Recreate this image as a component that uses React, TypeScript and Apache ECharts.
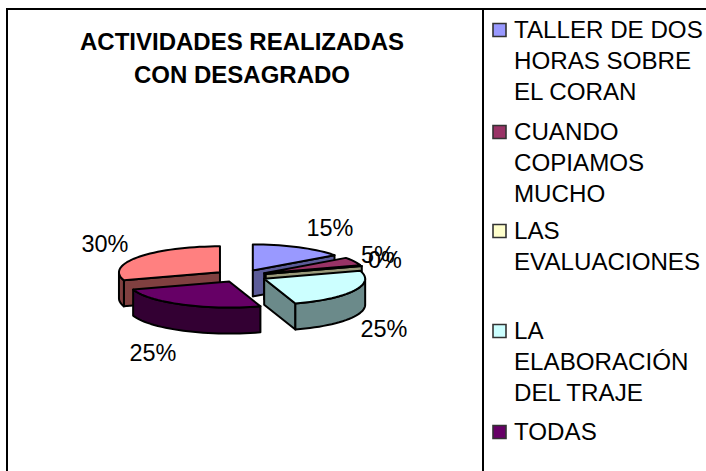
import React, { useEffect, useRef } from "react";
import * as echarts from "echarts";

const titleText = "ACTIVIDADES REALIZADAS\nCON DESAGRADO";
const categories = [
  "TALLER DE DOS HORAS SOBRE EL CORAN",
  "CUANDO COPIAMOS MUCHO",
  "LAS EVALUACIONES",
  "LA ELABORACIÓN DEL TRAJE",
  "TODAS",
  "",
];
const values = [15, 5, 0, 25, 25, 30];
const topColors = ["#9999FF", "#993366", "#FFFFCC", "#CCFFFF", "#660066", "#FF8080"];
const sideColors = ["#5C5C99", "#5C1F3D", "#99997A", "#6B8A8A", "#330033", "#804040"];
const legendLines = [
  ["TALLER DE DOS", "HORAS SOBRE", "EL CORAN"],
  ["CUANDO", "COPIAMOS", "MUCHO"],
  ["LAS", "EVALUACIONES"],
  ["LA", "ELABORACIÓN", "DEL TRAJE"],
  ["TODAS"],
];
const legendRowY = [30, 132, 231, 331, 432];
const labelAnchors = [
  [330, 228],
  [378, 255],
  [385, 260],
  [384, 329],
  [153, 353],
  [105, 244],
];

const FONT = "'Liberation Sans', Arial, sans-serif";
const CX = 241, CY = 276, RX = 101, RY = 26, DEPTH = 26, EXPLODE = 26, EXPLODE_Y = 0.24;
const LINE_H = 31;

const rad = (d: number) => (d * Math.PI) / 180;

function renderSlice(params: any, api: any) {
  const i = params.dataIndex;
  const v = api.value(0);
  const total = values.reduce((a, b) => a + b, 0);
  const before = values.slice(0, i).reduce((a, b) => a + b, 0);
  const a0 = (before / total) * 360;
  const a1 = a0 + (v / total) * 360;
  const mid = rad((a0 + a1) / 2);
  const ax = CX + EXPLODE * Math.sin(mid);
  const ay = CY - EXPLODE * EXPLODE_Y * Math.cos(mid);
  const pt = (deg: number, dz = 0) => [ax + RX * Math.sin(rad(deg)), ay - RY * Math.cos(rad(deg)) + dz];
  const arc = (from: number, to: number, dz = 0) => {
    const n = Math.max(1, Math.ceil((to - from) / 3));
    const out: number[][] = [];
    for (let k = 0; k <= n; k++) out.push(pt(from + ((to - from) * k) / n, dz));
    return out;
  };
  const z = Math.round(ay * 10);
  const lineStyle = { stroke: "#000", lineWidth: 2, lineJoin: "round" };
  const wall = (points: number[][], zz: number) => ({
    type: "polygon",
    z2: zz,
    shape: { points },
    style: { fill: sideColors[i], ...lineStyle },
  });
  const children: any[] = [];
  if (Math.sin(rad(a0)) < -1e-6) {
    children.push(wall([[ax, ay], pt(a0), pt(a0, DEPTH), [ax, ay + DEPTH]], z));
  }
  if (Math.sin(rad(a1)) > 1e-6) {
    children.push(wall([[ax, ay], pt(a1), pt(a1, DEPTH), [ax, ay + DEPTH]], z));
  }
  const f = Math.max(a0, 90), t = Math.min(a1, 270);
  if (t > f) {
    children.push(wall([...arc(f, t), ...arc(f, t, DEPTH).reverse()], z + 1));
  }
  children.push({
    type: "polygon",
    z2: z + 2,
    shape: { points: [[ax, ay], ...arc(a0, a1)] },
    style: { fill: topColors[i], ...lineStyle },
  });
  children.push({
    type: "text",
    z2: 9000 + i,
    x: labelAnchors[i][0],
    y: labelAnchors[i][1],
    scaleX: 1.02,
    style: {
      text: `${v}%`,
      fill: "#000",
      font: `23px ${FONT}`,
      textAlign: "center",
      textVerticalAlign: "middle",
    },
  });
  return { type: "group", children };
}

function buildGraphic() {
  const els: any[] = [
    { type: "rect", shape: { x: 6, y: 8, width: 700, height: 2 }, style: { fill: "#000" } },
    { type: "rect", shape: { x: 6, y: 8, width: 2, height: 463 }, style: { fill: "#000" } },
    { type: "rect", shape: { x: 482, y: 8, width: 2, height: 463 }, style: { fill: "#000" } },
  ];
  legendLines.forEach((lines, i) => {
    const y0 = legendRowY[i];
    els.push({
      type: "rect",
      shape: { x: 493, y: y0 - 6.5, width: 13, height: 13 },
      style: { fill: topColors[i], stroke: "#333", lineWidth: 1.6 },
    });
    lines.forEach((line, k) => {
      els.push({
        type: "text",
        x: 514,
        y: y0 + k * LINE_H,
        scaleX: 1.05,
        style: {
          text: line,
          fill: "#000",
          font: `23px ${FONT}`,
          textAlign: "left",
          textVerticalAlign: "middle",
        },
      });
    });
  });
  return els;
}

export default function App() {
  const ref = useRef<HTMLDivElement>(null);
  useEffect(() => {
    const chart = echarts.init(ref.current!, undefined, { renderer: "svg" });
    chart.setOption({
      animation: false,
      backgroundColor: "#fff",
      title: {
        text: titleText,
        left: 237,
        top: 20,
        textAlign: "center",
        textStyle: { fontFamily: FONT, fontSize: 24, fontWeight: "bold", color: "#000", lineHeight: 33 },
      },
      graphic: buildGraphic(),
      series: [
        {
          type: "custom",
          coordinateSystem: "none",
          renderItem: renderSlice,
          data: values.map((v, i) => ({ name: categories[i], value: [v] })),
        },
      ],
    });
    return () => chart.dispose();
  }, []);
  return <div ref={ref} style={{ position: "fixed", left: 0, top: 0, width: 706, height: 471 }} />;
}
